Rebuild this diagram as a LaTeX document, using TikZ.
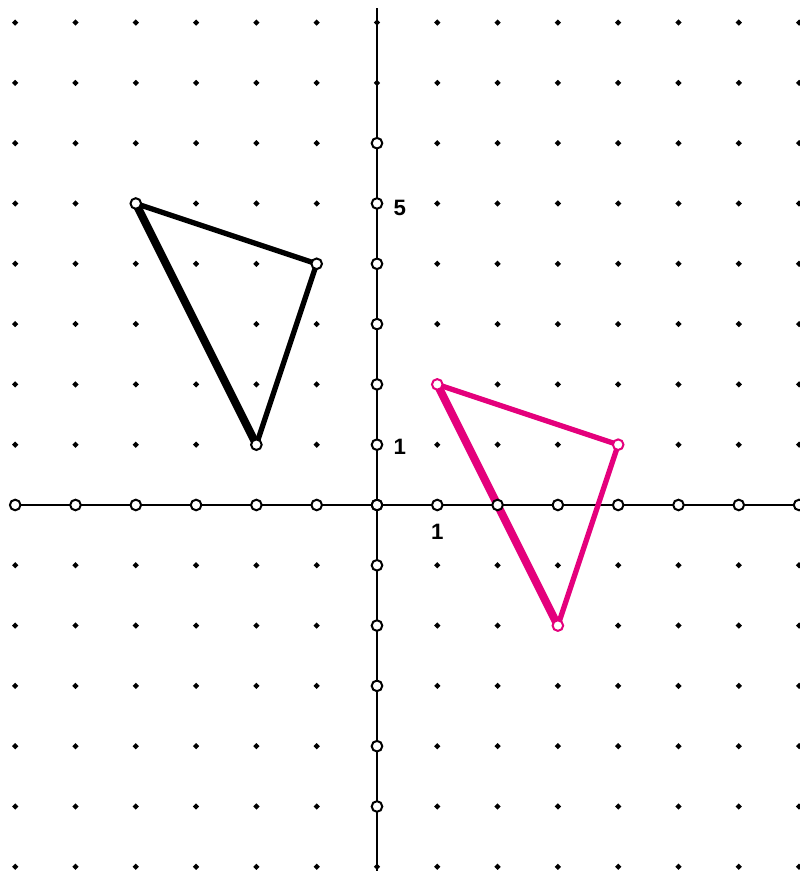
\documentclass[tikz,border=0pt]{standalone}
\usepackage{fontspec}
\setmainfont{Liberation Sans}
\definecolor{mag}{RGB}{228,0,124}
\begin{document}
\begin{tikzpicture}[
  axisline/.style={line width=0.95pt, black},
  dotmark/.style={fill=black},
  ring/.style={circle, draw=black, fill=white, line width=0.95pt, inner sep=0pt, minimum size=5pt},
  magring/.style={ring, draw=mag},
  thinedge/.style={line width=2.5pt, line join=round, line cap=round},
  thickedge/.style={line width=3.8pt, line join=round, line cap=round},
  lbl/.style={font=\bfseries\fontsize{10.5}{12}\selectfont, inner sep=0pt}
]
\useasboundingbox (-6.252,-6.07) rectangle (7.015,8.375);
% dot grid
\foreach \i in {-6,...,7} {
  \foreach \j in {-6,...,8} {
    \fill[dotmark] (\i,\j) +(0.052,0) -- +(0,0.052) -- +(-0.052,0) -- +(0,-0.052) -- cycle;
  }
}
% axes
\coordinate (xl) at (-6,0);
\coordinate (xr) at (7.015,0);
\coordinate (yt) at (0,8.24);
\coordinate (yb) at (0,-6.07);
\draw[axisline] (xl) -- (xr);
\draw[axisline] (yt) -- (yb);
% triangles
\coordinate (A) at (-4,5);
\coordinate (B) at (-1,4);
\coordinate (C) at (-2,1);
\coordinate (P) at (1,2);
\coordinate (Q) at (4,1);
\coordinate (R) at (3,-2);
\draw[thinedge] (A) -- (B) -- (C);
\draw[thickedge] (A) -- (C);
\draw[thinedge, mag] (P) -- (Q) -- (R);
\draw[thickedge, mag] (P) -- (R);
% axis rings
\foreach \i in {-6,...,7} { \node[ring] (xa\i) at (\i,0) {}; }
\foreach \j in {-5,...,6} { \node[ring] (ya\j) at (0,\j) {}; }
% vertex rings
\node[ring] (vA) at (A) {};
\node[ring] (vB) at (B) {};
\node[ring] (vC) at (C) {};
\node[magring] (vP) at (P) {};
\node[magring] (vQ) at (Q) {};
\node[magring] (vR) at (R) {};
% labels
\node[lbl] (l5) at (0.38,4.93) {5};
\node[lbl] (l1y) at (0.38,0.96) {1};
\node[lbl] (l1x) at (1.0,-0.44) {1};
\end{tikzpicture}
\end{document}
